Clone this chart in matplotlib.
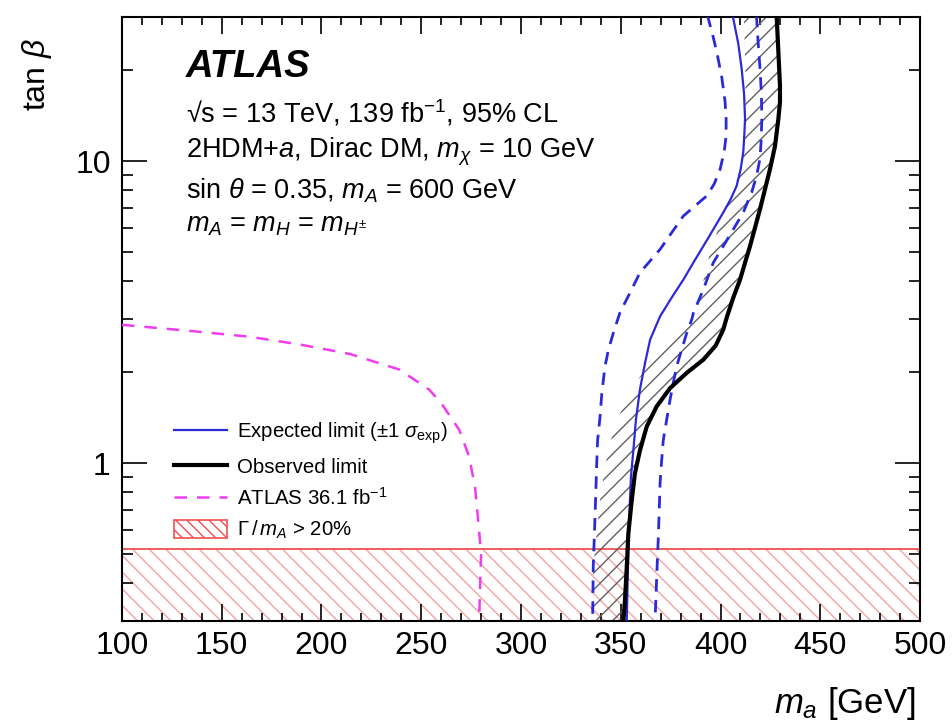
"""tan(beta) vs m_a exclusion limits, 2HDM+a"""
import matplotlib
matplotlib.use("Agg")
import matplotlib.pyplot as plt
from matplotlib import ticker
from matplotlib.lines import Line2D
from matplotlib.patches import Patch

plt.rcParams['font.family'] = ['Liberation Sans', 'DejaVu Sans']
plt.rcParams['mathtext.fontset'] = 'custom'
plt.rcParams['mathtext.rm'] = 'Liberation Sans'
plt.rcParams['mathtext.it'] = 'Liberation Sans:italic'
plt.rcParams['mathtext.bf'] = 'Liberation Sans:bold'
plt.rcParams['hatch.linewidth'] = 1.0

# ATLAS 36.1 fb-1 result
ma_36 = [100, 139, 164, 189, 214, 239, 254, 260, 269, 274, 277, 278.5, 280, 279.5, 279]
tb_36 = [2.87, 2.72, 2.62, 2.47, 2.30, 2.04, 1.75, 1.58, 1.29, 1.05, 0.83, 0.65, 0.50, 0.39, 0.30]

# expected limit
exp_ma = [406.2, 406.4, 408.9, 410.6, 411.8, 412.3, 411.9, 411.4, 410.1, 408.1, 405.1, 401.4,
          396.4, 391.4, 386.4, 381.4, 375.5, 369.7, 364.7, 362.2, 359.6, 357.6, 356.3, 355.1,
          354.6, 353.8, 353.0]
exp_tb = [30.5, 29.6, 24.5, 20.2, 16.7, 13.8, 12.1, 10.7, 9.40, 8.28, 7.48, 6.76,
          5.94, 5.23, 4.61, 4.05, 3.53, 3.06, 2.56, 2.15, 1.75, 1.39, 1.10, 0.90,
          0.753, 0.514, 0.30]

# expected -1 sigma (left) and +1 sigma (right)
exp_lo_ma = [393.7, 393.9, 396.1, 398.1, 400.6, 402.3, 402.8, 402.8, 401.8, 399.8, 396.8, 393.1,
             387.2, 381.4, 375.5, 369.7, 364.7, 359.6, 354.6, 349.6, 346.3, 343.8, 342.1, 340.5,
             339.6, 338.4, 337.9, 337.1, 336.2, 335.9]
exp_lo_tb = [30.5, 29.6, 26.1, 23.0, 19.0, 15.7, 13.8, 12.1, 10.7, 9.40, 8.39, 7.67,
             7.10, 6.58, 5.79, 5.10, 4.67, 4.27, 3.66, 3.15, 2.70, 2.37, 2.09, 1.70,
             1.42, 1.19, 0.972, 0.663, 0.452, 0.30]
exp_hi_ma = [418.0, 418.1, 418.9, 419.8, 420.5, 420.7, 420.3, 419.8, 418.1, 415.6, 411.4, 406.4,
             401.4, 396.4, 391.4, 386.4, 385.6, 383.1, 380.5, 378.0, 376.3, 374.7, 373.0, 371.3,
             370.5, 369.7, 368.9, 368.0, 367.2]
exp_hi_tb = [30.5, 29.6, 24.5, 20.2, 16.7, 13.8, 11.5, 10.2, 8.94, 7.87, 6.76, 5.94,
             5.23, 4.61, 3.76, 3.14, 2.99, 2.70, 2.37, 2.09, 1.84, 1.62, 1.39, 1.19,
             1.02, 0.856, 0.584, 0.419, 0.30]

# observed limit
obs_ma = [428.1, 428.2, 429.0, 429.8, 429.8, 429.0, 427.3, 424.8, 422.3, 419.8, 417.3, 414.8,
          412.3, 409.8, 406.4, 403.3, 401.4, 397.6, 391.4, 383.1, 374.7, 368.0, 363.0, 359.6,
          357.1, 355.5, 353.8, 353.0, 352.1, 351.3]
obs_tb = [30.5, 29.6, 23.0, 17.8, 15.7, 13.8, 11.2, 9.40, 8.07, 6.93, 6.02, 5.23,
          4.61, 4.05, 3.53, 3.06, 2.77, 2.45, 2.20, 1.99, 1.77, 1.54, 1.32, 1.10,
          0.924, 0.753, 0.584, 0.452, 0.350, 0.30]

# outer edge of the hatched (excluded) side of the observed limit
hatch_ma = [411.7, 411.8, 412.4, 412.6, 411.4, 408.9, 405.6, 401.4, 398.1, 394.7, 392.2, 389.7,
            383.1, 374.7, 366.3, 359.6, 354.6, 350.5, 347.1, 344.6, 342.1, 339.6, 337.9, 336.2,
            335.4, 334.9]
hatch_tb = [30.5, 29.6, 20.2, 13.8, 10.7, 8.94, 7.67, 6.58, 5.79, 4.97, 4.27, 3.48,
            2.99, 2.56, 2.20, 1.93, 1.70, 1.50, 1.32, 1.16, 0.972, 0.753, 0.584, 0.452,
            0.350, 0.30]

# Gamma/m_A > 20% region
width_ma = [100, 500]
width_tb_min = 0.3
width_tb_max = 0.52

BLUE = '#2a2ad8'
MAGENTA = '#f03cf0'
RED = '#f05050'
PINK = '#f4a2a2'

fig = plt.figure(figsize=(9.53, 7.28), dpi=100)
ax = fig.add_axes([0.128, 0.147, 0.8374, 0.8297])

# width region
ax.fill_between(width_ma, width_tb_min, width_tb_max, facecolor='none',
                edgecolor=PINK, hatch='\\\\', linewidth=0, zorder=1)
ax.axhline(width_tb_max, color=RED, lw=1.3, zorder=2)

# hatched side of observed limit
ax.fill(obs_ma + hatch_ma[::-1], obs_tb + hatch_tb[::-1], facecolor='none',
        edgecolor='#606060', hatch='//', linewidth=0, zorder=2)

ax.plot(ma_36, tb_36, color=MAGENTA, lw=1.8, ls=(0, (5, 4)), zorder=3)
ax.plot(exp_lo_ma, exp_lo_tb, color=BLUE, lw=2.0, ls=(0, (4.5, 3)), zorder=3)
ax.plot(exp_hi_ma, exp_hi_tb, color=BLUE, lw=2.0, ls=(0, (4.5, 3)), zorder=3)
ax.plot(exp_ma, exp_tb, color=BLUE, lw=1.6, zorder=4)
ax.plot(obs_ma, obs_tb, color='black', lw=3.0, zorder=5)

ax.set_xlim(100, 500)
ax.set_yscale('log')
ax.set_ylim(0.3, 30)

ax.xaxis.set_major_locator(ticker.MultipleLocator(50))
ax.xaxis.set_minor_locator(ticker.MultipleLocator(10))
ax.yaxis.set_major_locator(ticker.FixedLocator([1, 10]))
ax.yaxis.set_major_formatter(ticker.FuncFormatter(lambda v, _: f"{v:g}"))
ax.yaxis.set_minor_locator(ticker.LogLocator(subs=range(2, 10)))
ax.yaxis.set_minor_formatter(ticker.NullFormatter())

ax.tick_params(which='both', direction='in', top=True, right=True, width=1.2,
               labelsize=23)
ax.tick_params(axis='x', which='major', length=12, pad=7)
ax.tick_params(axis='x', which='minor', length=6)
ax.tick_params(axis='y', which='major', length=18, pad=8)
ax.tick_params(axis='y', which='minor', length=8)
for spine in ax.spines.values():
    spine.set_linewidth(1.5)

ax.set_xlabel(r"$m_{a}$ [GeV]", fontsize=25, loc='right')
ax.xaxis.set_label_coords(0.994, -0.106)
ax.set_ylabel(r"tan $\beta$", fontsize=23, loc='top')
ax.yaxis.set_label_coords(-0.085, 0.965)

# labels
ax.text(0.08, 0.917, "ATLAS", transform=ax.transAxes, fontsize=27.5,
        fontweight='bold', fontstyle='italic', va='center')
info = [r"√s = 13 TeV, 139 fb$^{-1}$, 95% CL",
        r"2HDM+$a$, Dirac DM, $m_{\chi}$ = 10 GeV",
        r"sin $\theta$ = 0.35, $m_{A}$ = 600 GeV",
        r"$m_{A}$ = $m_{H}$ = $m_{H^{\pm}}$"]
info_y = [0.841, 0.776, 0.713, 0.655]
for line, yy in zip(info, info_y):
    ax.text(0.08, yy, line, transform=ax.transAxes, fontsize=19.5, va='center')

handles = [Line2D([], [], color=BLUE, lw=1.6),
           Line2D([], [], color='black', lw=3.0),
           Line2D([], [], color=MAGENTA, lw=1.8, ls=(0, (5, 4))),
           Patch(facecolor='none', edgecolor=RED, hatch='\\\\\\', lw=1.2)]
labels = [r"Expected limit ($\pm$1 $\sigma_{\mathrm{exp}}$)",
          "Observed limit",
          r"ATLAS 36.1 fb$^{-1}$",
          r"$\Gamma\,/\,m_{A}$ > 20%"]
ax.legend(handles, labels, loc='upper left', bbox_to_anchor=(0.055, 0.345),
          frameon=False, fontsize=14.7, handlelength=2.6, handleheight=1.0,
          handletextpad=0.5, labelspacing=0.5, borderaxespad=0)

fig.savefig("out.png", dpi=100)
